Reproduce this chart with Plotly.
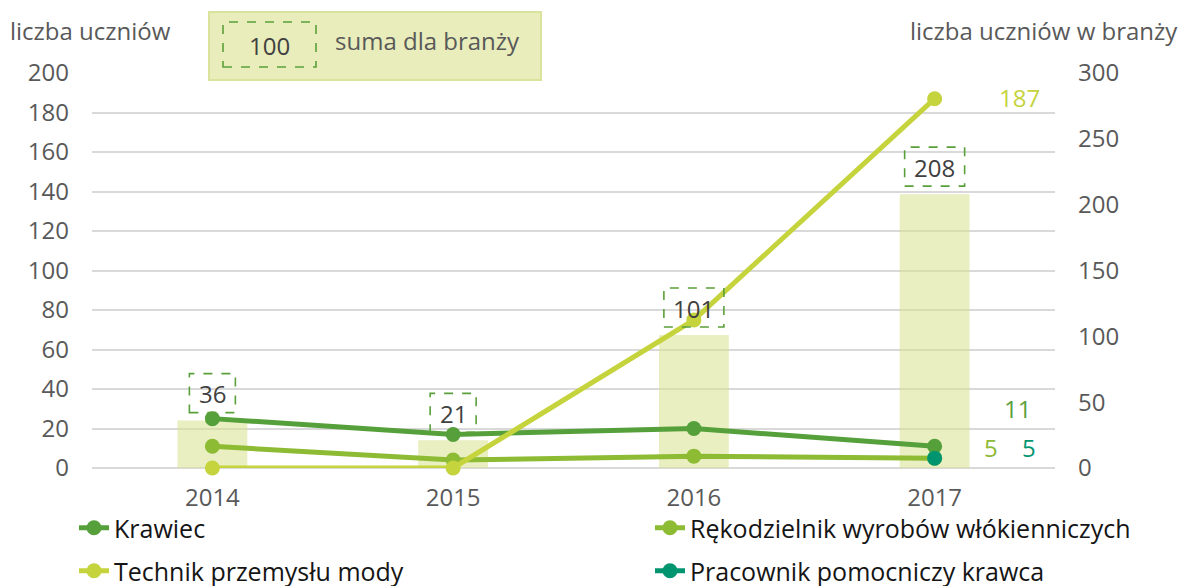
import plotly.graph_objects as go

years = ["2014", "2015", "2016", "2017"]
krawiec = [25, 17, 20, 11]
rekodzielnik = [11, 4, 6, 5]
technik = [0, 0, 75, 187]
pracownik = [None, None, None, 5]
sums = [36, 21, 101, 208]

series = [
    ("Krawiec", krawiec, "#55a03a"),
    ("Rękodzielnik wyrobów włókienniczych", rekodzielnik, "#8dbb34"),
    ("Technik przemysłu mody", technik, "#c5d33c"),
    ("Pracownik pomocniczy krawca", pracownik, "#00956f"),
]

FONT = "Open Sans"
TICK = "#595959"
FS = 24

W, H = 1186, 586
L, R, T, B = 92, 1055, 73, 468


def px(x):
    return (x - L) / (R - L)


def py(y):
    return (B - y) / (B - T)


fig = go.Figure()

# bars (sum per branch) on base axis (right side)
fig.add_trace(go.Bar(
    x=years, y=sums, yaxis="y", width=0.29,
    marker=dict(color="rgba(215,226,140,0.55)", line=dict(width=0)),
    showlegend=False, hoverinfo="skip",
))

legend_ids = ["legend", "legend2", "legend3", "legend4"]
for (name, vals, col), lg in zip(series, legend_ids):
    fig.add_trace(go.Scatter(
        x=years, y=vals, yaxis="y2", name=name, mode="lines+markers",
        line=dict(color=col, width=5), marker=dict(color=col, size=15),
        legend=lg, cliponaxis=False,
    ))

# sum labels with dashed boxes
for i, s in enumerate(sums):
    w = 46 if s < 100 else 60
    fig.add_shape(type="rect", xref="x", yref="y",
                  xsizemode="pixel", ysizemode="pixel",
                  xanchor=i, x0=-w / 2, x1=w / 2,
                  yanchor=s, y0=8, y1=47,
                  line=dict(color="#5aa03a", width=1.6, dash="dash"),
                  fillcolor="rgba(0,0,0,0)", layer="above")
    fig.add_annotation(x=i, y=s, xref="x", yref="y", text=str(s),
                       showarrow=False, yshift=27,
                       font=dict(family=FONT, size=FS, color="#404040"))

# end labels
end_labels = [
    (technik[3], "187", "#c5d33c", 85, 1),
    (krawiec[3], "11", "#5aa03a", 83, 38),
    (rekodzielnik[3], "5", "#8dbb34", 56, 11),
    (pracownik[3], "5", "#00956f", 94, 11),
]
for v, t, c, xs, ys in end_labels:
    fig.add_annotation(x=3, y=v, xref="x", yref="y2", text=t,
                       showarrow=False, xshift=xs, yshift=ys,
                       font=dict(family=FONT, size=FS, color=c))

# top info box
fig.add_shape(type="rect", xref="paper", yref="paper",
              x0=px(209), x1=px(541), y0=py(80), y1=py(12),
              fillcolor="#e8edbb", line=dict(color="#d9e39b", width=2), layer="above")
fig.add_shape(type="rect", xref="paper", yref="paper",
              x0=px(223), x1=px(316), y0=py(67), y1=py(22),
              fillcolor="rgba(0,0,0,0)", line=dict(color="#5aa03a", width=1.6, dash="dash"),
              layer="above")
fig.add_annotation(xref="paper", yref="paper", x=px(269), y=py(45), text="100",
                   showarrow=False, xanchor="center", yanchor="middle",
                   font=dict(family=FONT, size=FS, color="#404040"))
fig.add_annotation(xref="paper", yref="paper", x=px(333), y=py(40), text="suma dla branży",
                   showarrow=False, xanchor="left", yanchor="middle",
                   font=dict(family=FONT, size=FS, color="#595959"))

# axis titles
fig.add_annotation(xref="paper", yref="paper", x=px(8), y=py(30), text="liczba uczniów",
                   showarrow=False, xanchor="left", yanchor="middle",
                   font=dict(family=FONT, size=FS, color=TICK))
fig.add_annotation(xref="paper", yref="paper", x=px(1180), y=py(30), text="liczba uczniów w branży",
                   showarrow=False, xanchor="right", yanchor="middle",
                   font=dict(family=FONT, size=FS, color=TICK))

leg_common = dict(orientation="h", xanchor="left", yanchor="middle",
                  font=dict(family=FONT, size=25, color="#151515"),
                  bgcolor="rgba(0,0,0,0)", borderwidth=0)
legend_pos = {"legend": (74, 528), "legend2": (650, 528),
              "legend3": (74, 571), "legend4": (650, 571)}
legend_layout = {k: dict(x=px(x), y=py(y), **leg_common) for k, (x, y) in legend_pos.items()}

fig.update_layout(
    width=W, height=H,
    margin=dict(l=L, r=W - R, t=T, b=H - B, autoexpand=False),
    plot_bgcolor="white", paper_bgcolor="white",
    font=dict(family=FONT, size=FS, color=TICK),
    barmode="overlay",
    xaxis=dict(type="category", range=[-0.5, 3.5], showgrid=False, zeroline=False,
               showline=False, tickfont=dict(size=FS, color=TICK), ticks="",
               ticklabelstandoff=13),
    yaxis=dict(side="right", range=[0, 300], dtick=50, showgrid=False, zeroline=False,
               tickfont=dict(size=FS, color=TICK), ticklabelstandoff=22),
    yaxis2=dict(side="left", overlaying="y", range=[0, 200], dtick=20, showgrid=True,
                gridcolor="#d9d9d9", gridwidth=1.5, zeroline=True, zerolinecolor="#d9d9d9",
                zerolinewidth=1.5,
                tickfont=dict(size=FS, color=TICK), ticklabelstandoff=22),
    showlegend=True,
    **legend_layout,
)

fig.write_html("out.html", config={"displayModeBar": False},
               post_script="document.body.style.margin='0px';document.body.style.overflow='hidden';")
